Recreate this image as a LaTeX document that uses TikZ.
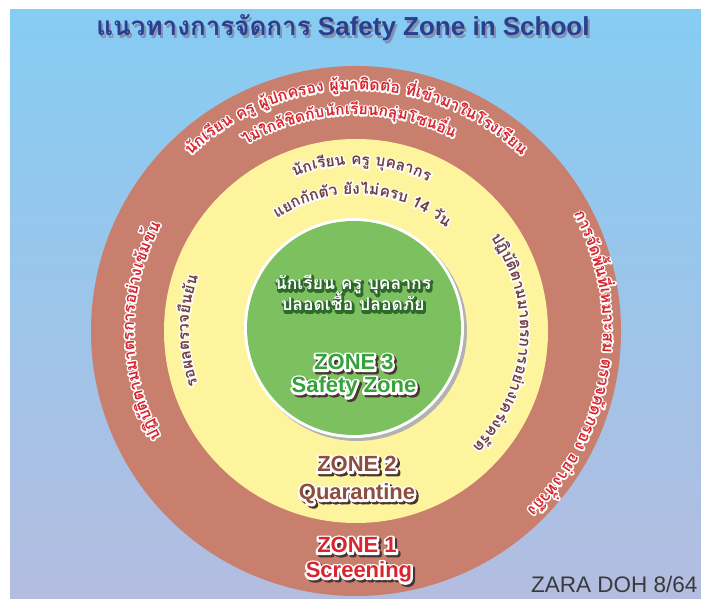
\documentclass[tikz,border=0pt]{standalone}
\usepackage{fontspec}
\setmainfont{Liberation Sans}
\newfontfamily\thaifont[Script=Thai]{Loma}
\newfontfamily\thaiH[Script=Thai,FakeBold=20]{Loma}
\newfontfamily\latH[FakeBold=20]{Liberation Sans}
\usetikzlibrary{decorations.text}
\definecolor{skyA}{HTML}{86CCF3}
\definecolor{skyB}{HTML}{B3BDE0}
\definecolor{ringA}{HTML}{C97F6E}
\definecolor{ringB}{HTML}{FDF49D}
\definecolor{ringC}{HTML}{7CC05F}
\definecolor{navy}{HTML}{2B3F8F}
\definecolor{navyS}{HTML}{8590AE}
\definecolor{redT}{HTML}{D8262F}
\definecolor{brownT}{HTML}{6E3F46}
\definecolor{brownZ}{HTML}{8E4E3E}
\definecolor{greenZ}{HTML}{36A23B}
\definecolor{greenD}{HTML}{2E6A2C}
\definecolor{shadowD}{HTML}{4A3434}
\definecolor{grayT}{HTML}{3A3A3A}

% curved text with halo: #1 radius, #2 start, #3 end, #4 size, #5 colour, #6 halo colour, #7 text
\newcommand\arctext[7]{%
  \path[decorate,decoration={text along path,text align=center,text color=#6,
      text={|\thaiH\bfseries\fontsize{#4}{#4}\selectfont|#7}}]
      (C) ++(#2:#1) arc[start angle=#2,end angle=#3,radius=#1];
  \path[decorate,decoration={text along path,text align=center,text color=#5,
      text={|\thaifont\bfseries\fontsize{#4}{#4}\selectfont|#7}}]
      (C) ++(#2:#1) arc[start angle=#2,end angle=#3,radius=#1];
}

% straight label with shadow and white halo: #1 name, #2 coordinate name, #3 size, #4 colour, #5 shadow colour, #6 text
\newcommand\zonelabel[6]{%
  \node[lbl,font=\latH\bfseries\fontsize{#3}{#3}\selectfont,text=#5] at ([shift={(2.2pt,-2.2pt)}]#2) {#6};
  \node[lbl,font=\latH\bfseries\fontsize{#3}{#3}\selectfont,text=white] at (#2) {#6};
  \node[lbl,font=\bfseries\fontsize{#3}{#3}\selectfont,text=#4] (#1) at (#2) {#6};
}

\tikzset{lbl/.style={anchor=base,inner sep=0pt}}

\begin{document}
\begin{tikzpicture}[x=1pt,y=1pt,line join=round]
\useasboundingbox (0,0) rectangle (701,599);
\clip (0,0) rectangle (701,599);
\fill[white] (0,0) rectangle (701,599);
\shade[top color=skyA,bottom color=skyB] (10,0) rectangle (701,589);

\coordinate (C) at (356,268);
\coordinate (G) at (354,271);

% rings
\fill[ringA] (C) circle[radius=265];
\fill[ringB] (C) circle[radius=192];
\fill[black!30] ([shift={(3,-3)}]G) circle[radius=110];
\fill[white] (G) circle[radius=110];
\fill[ringC] (G) circle[radius=107];

% title
\coordinate (T) at (343,563);
\node[lbl,text=navyS] at ([shift={(2pt,-3pt)}]T) {\fontsize{26}{26}\selectfont{\thaifont\bfseries แนวทางการจัดการ} \bfseries Safety Zone in School};
\node[lbl,text=navy] (title) at (T) {\fontsize{26}{26}\selectfont{\thaifont\bfseries แนวทางการจัดการ} \bfseries Safety Zone in School};

% zone 1 curved texts
\arctext{241}{170}{10}{16}{redT}{white}{{นัก}{เรียน} {ครู} {ผู้}{ปก}{ครอง} {ผู้}{มา}{ติด}{ต่อ} {ที่}{เข้า}{มา}{ใน}{โรง}{เรียน}}
\arctext{216}{172}{12}{15.5}{redT}{white}{{ไม่}{ใกล้}{ชิด}{กับ}{นัก}{เรียน}{กลุ่ม}{โซน}{อื่น}}
\arctext{222}{250}{110}{16}{redT}{white}{{ปฏิ}{บัติ}{ตาม}{มา}{ตร}{การ}{อย่าง}{เข้ม}{ข้น}}
\arctext{247}{81}{-99}{16}{redT}{white}{{การ}{จัด}{พื้น}{ที่}{เหมาะ}{สม} {ตรวจ}{คัด}{กรอง} {อย่าง}{ทั่ว}{ถึง}}

% zone 2 curved texts
\arctext{166}{168}{8}{15.5}{brownT}{white}{{นัก}{เรียน} {ครู} {บุ}{คลา}{กร}}
\arctext{137}{167}{7}{15.5}{brownT}{white}{{แยก}{กัก}{ตัว} {ยัง}{ไม่}{ครบ} {14} {วัน}}
\arctext{167}{250}{110}{15.5}{brownT}{white}{{รอ}{ผล}{ตรวจ}{ยืน}{ยัน}}
\arctext{164}{85}{-95}{15.5}{brownT}{white}{{ปฏิ}{บัติ}{ตาม}{มา}{ตร}{การ}{อย่าง}{เคร่ง}{ครัด}}

% zone 3 texts
\coordinate (g1) at (353,309);
\coordinate (g2) at (353,288);
\node[lbl,text=greenD,font=\thaiH\bfseries\fontsize{17.5}{17.5}\selectfont] at ([shift={(1pt,-1pt)}]g1) {นักเรียน ครู บุคลากร};
\node[lbl,text=greenD,font=\thaiH\bfseries\fontsize{17.5}{17.5}\selectfont] at ([shift={(1pt,-1pt)}]g2) {ปลอดเชื้อ ปลอดภัย};
\node[lbl,text=white,font=\thaifont\bfseries\fontsize{17.5}{17.5}\selectfont] (z3a) at (g1) {นักเรียน ครู บุคลากร};
\node[lbl,text=white,font=\thaifont\bfseries\fontsize{17.5}{17.5}\selectfont] (z3b) at (g2) {ปลอดเชื้อ ปลอดภัย};

\coordinate (l3a) at (354,229);
\coordinate (l3b) at (354,206);
\coordinate (l2a) at (357,127);
\coordinate (l2b) at (357,99);
\coordinate (l1a) at (357,46);
\coordinate (l1b) at (359,21);
\zonelabel{zone3}{l3a}{22}{greenZ}{shadowD}{ZONE 3}
\zonelabel{safety}{l3b}{22}{greenZ}{shadowD}{Safety Zone}
\zonelabel{zone2}{l2a}{22}{brownZ}{shadowD}{ZONE 2}
\zonelabel{quar}{l2b}{22}{brownZ}{shadowD}{Quarantine}
\zonelabel{zone1}{l1a}{22}{redT}{shadowD}{ZONE 1}
\zonelabel{screen}{l1b}{22}{redT}{shadowD}{Screening}

% credit
\node[anchor=base west,inner sep=0pt,text=grayT,font=\fontsize{22.5}{22.5}\selectfont] (credit) at (531,6) {ZARA DOH 8/64};
\end{tikzpicture}
\end{document}
